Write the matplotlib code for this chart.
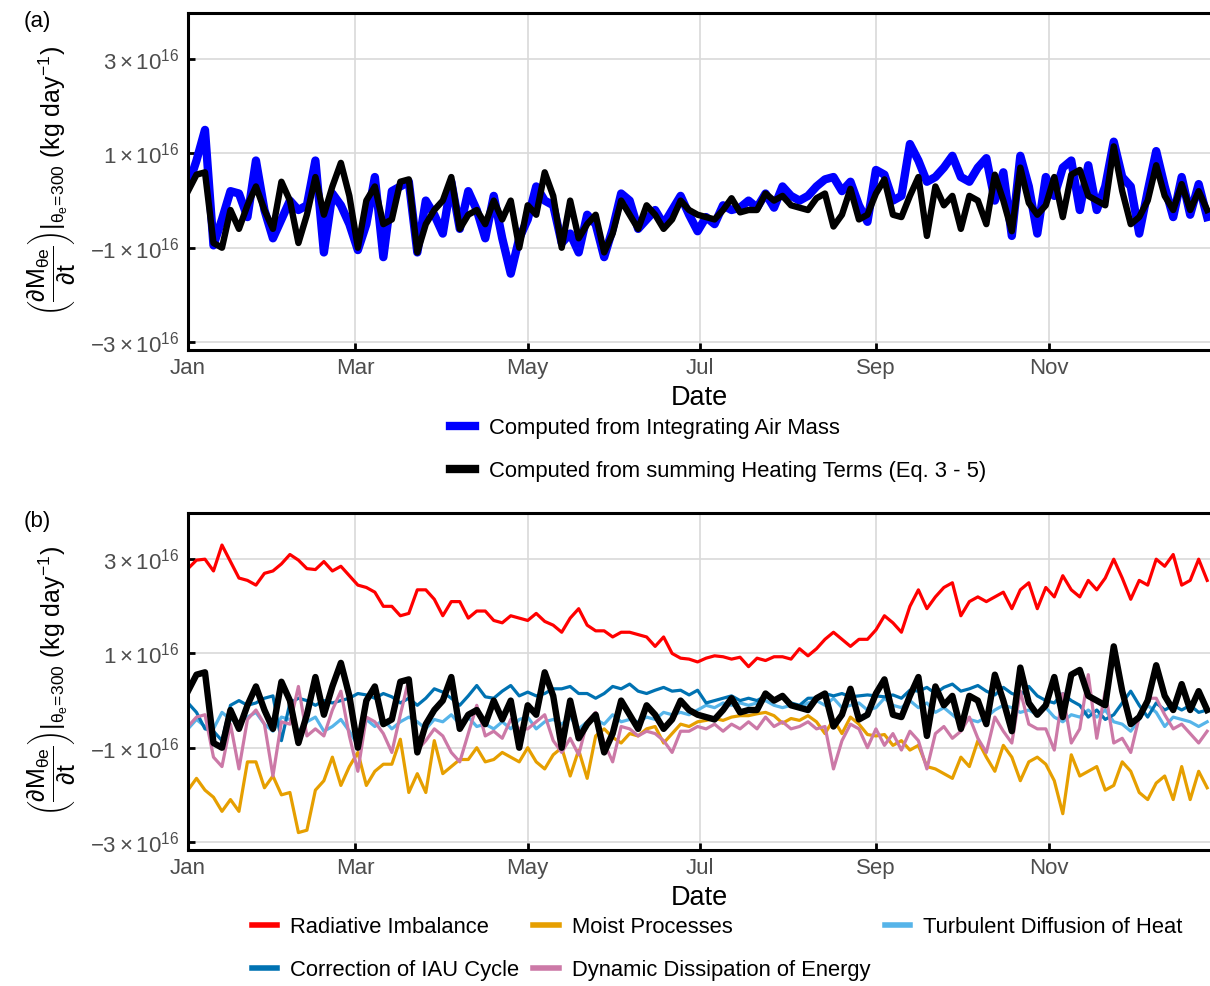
import numpy as np
import matplotlib
matplotlib.use("Agg")
import matplotlib.pyplot as plt
import matplotlib.dates as mdates
from matplotlib.ticker import FuncFormatter

plt.rcParams["font.family"] = ["Liberation Sans", "DejaVu Sans"]
plt.rcParams["mathtext.fontset"] = "custom"
plt.rcParams["mathtext.rm"] = "Liberation Sans"
plt.rcParams["mathtext.it"] = "Liberation Sans"
plt.rcParams["mathtext.bf"] = "Liberation Sans:bold"

# daily budget terms sampled every 3 days, in units of 1e16 kg/day
START = np.datetime64("2019-01-01")
STEP_DAYS = 3

integrated_mass = [
    0.3, 0.85, 1.5, -0.95, -0.4, 0.2, 0.15, -0.35, 0.85, -0.2, -0.8, -0.4, 0.0, -0.2, -0.1, 0.85,
    -1.1, 0.15, -0.1, -0.5, -1.05, -0.5, 0.5, -1.2, 0.2, 0.3, 0.4, -1.1, 0.0, -0.3, -0.7, 0.4,
    -0.6, 0.2, -0.2, -0.8, 0.1, -0.8, -1.55, -0.8, -0.4, 0.3, 0.0, -0.1, -0.9, -0.7, -1.1, -0.3,
    -0.5, -1.2, -0.6, 0.15, 0.0, -0.6, -0.4, -0.2, -0.5, -0.2, 0.1, -0.3, -0.65,
    -0.35, -0.5, -0.1, -0.2, -0.15, 0.0, -0.15, 0.15, -0.15, 0.3, 0.1, 0.0, 0.1, 0.3, 0.45, 0.5,
    0.2, 0.4, -0.1, -0.45, 0.65, 0.55, 0.0, 0.1, 1.2, 0.85, 0.4, 0.5, 0.7, 0.95, 0.5, 0.4,
    0.7, 0.9, 0.0, 0.6, -0.75, 0.95, 0.3, -0.7, 0.5, 0.1, 0.7, 0.85, -0.2, 0.75, -0.2, 0.3,
    1.25, 0.5, 0.3, -0.7, 0.2, 1.05, 0.3, -0.35, 0.5, -0.3, 0.35, -0.35,
]

heating_sum = [
    0.2, 0.55, 0.6, -0.9, -1.0, -0.2, -0.6, -0.1, 0.3, -0.2, -0.6, 0.4, 0.0, -0.9, -0.3, 0.5,
    -0.3, 0.3, 0.8, 0.1, -1.0, 0.0, 0.3, -0.5, -0.4, 0.4, 0.45, -1.1, -0.5, -0.2, 0.0, 0.5,
    -0.6, -0.3, -0.2, -0.5, 0.0, -0.4, 0.0, -1.0, -0.1, -0.3, 0.6, 0.1, -1.0, 0.0, -0.8, -0.5,
    -0.3, -1.1, -0.7, 0.0, -0.3, -0.6, -0.1, -0.3, -0.6, -0.4, 0.0, -0.2, -0.3,
    -0.35, -0.4, -0.2, 0.05, -0.25, -0.2, -0.2, 0.15, 0.0, 0.1, -0.1, -0.15, -0.2, 0.05, 0.15, -0.55,
    -0.3, 0.25, -0.4, -0.3, 0.15, 0.45, -0.3, -0.35, 0.1, 0.5, -0.75, 0.3, -0.1, 0.1, -0.6, 0.1,
    0.0, -0.5, 0.55, 0.0, -0.65, 0.7, -0.05, -0.3, -0.1, 0.5, -0.35, 0.55, 0.65, 0.1, 0.0, -0.1,
    1.15, 0.2, -0.5, -0.35, 0.0, 0.75, 0.1, -0.2, 0.35, -0.2, 0.2, -0.2,
]

radiative = [
    2.8, 2.98, 3.0, 2.75, 3.3, 2.95, 2.6, 2.55, 2.45, 2.7, 2.75, 2.9, 3.1, 2.98, 2.8, 2.78,
    2.95, 2.75, 2.85, 2.65, 2.45, 2.4, 2.3, 2.0, 2.0, 1.8, 1.85, 2.35, 2.35, 2.15, 1.8, 2.1,
    2.1, 1.75, 1.9, 1.9, 1.7, 1.65, 1.8, 1.75, 1.7, 1.85, 1.68, 1.6, 1.45, 1.75, 1.95, 1.6,
    1.48, 1.48, 1.35, 1.45, 1.45, 1.4, 1.35, 1.15, 1.35, 1.0, 0.9, 0.88, 0.82,
    0.9, 0.95, 0.93, 0.88, 0.92, 0.72, 0.9, 0.85, 0.93, 0.93, 0.88, 1.1, 0.95, 1.1, 1.3, 1.45,
    1.3, 1.15, 1.3, 1.3, 1.5, 1.8, 1.65, 1.45, 2.0, 2.35, 1.95, 2.2, 2.4, 2.5, 1.8, 2.1,
    2.2, 2.1, 2.2, 2.3, 1.95, 2.35, 2.5, 1.95, 2.4, 2.2, 2.65, 2.35, 2.2, 2.55, 2.35, 2.6,
    3.0, 2.6, 2.15, 2.55, 2.45, 3.0, 2.85, 3.1, 2.45, 2.55, 3.0, 2.55,
]

moist = [
    -1.9, -1.65, -1.9, -2.05, -2.35, -2.1, -2.35, -1.3, -1.3, -1.85, -1.6, -2.0, -1.95, -2.8, -2.75, -1.9,
    -1.7, -1.2, -1.8, -1.4, -1.1, -1.8, -1.5, -1.35, -1.35, -0.82, -1.95, -1.55, -1.95, -0.85, -1.55, -1.4,
    -1.25, -1.25, -1.0, -1.3, -1.25, -1.1, -1.2, -1.3, -1.0, -1.3, -1.45, -1.15, -1.0, -1.6, -1.05, -1.65,
    -0.75, -0.6, -0.78, -0.9, -0.7, -0.75, -0.6, -0.55, -0.9, -0.7, -0.5, -0.55, -0.45,
    -0.42, -0.38, -0.42, -0.35, -0.32, -0.32, -0.28, -0.25, -0.32, -0.48, -0.38, -0.42, -0.32, -0.45, -0.7, -0.4,
    -0.7, -0.35, -0.5, -0.72, -0.75, -0.72, -0.95, -0.85, -1.05, -0.95, -1.4, -1.45, -1.55, -1.65, -1.2, -1.4,
    -0.85, -1.2, -1.5, -0.95, -1.2, -1.7, -1.3, -1.2, -1.35, -1.7, -2.4, -1.15, -1.6, -1.5, -1.4, -1.9,
    -1.8, -1.3, -1.5, -1.95, -2.1, -1.75, -1.6, -2.1, -1.4, -2.1, -1.5, -1.85,
]

turbulent = [
    -0.6, -0.4, -0.55, -0.6, -0.25, -0.4, -0.45, -0.35, -0.25, -0.5, -0.65, -0.35, -0.4, -0.65, -0.45, -0.35,
    -0.65, -0.55, -0.4, -0.65, -0.95, -0.4, -0.55, -0.4, -0.6, -0.45, -0.35, -0.45, -0.6, -0.4, -0.45, -0.3,
    -0.5, -0.35, -0.55, -0.5, -0.6, -0.45, -0.6, -0.4, -0.35, -0.6, -0.45, -0.4, -0.5, -0.35, -0.6, -0.45,
    -0.4, -0.5, -0.3, -0.45, -0.4, -0.45, -0.35, -0.4, -0.25, -0.3, -0.25, -0.3, -0.2,
    -0.1, -0.15, -0.05, -0.1, -0.05, -0.1, -0.05, 0.0, -0.1, -0.15, -0.1, -0.15, -0.05, 0.0, -0.1, 0.05,
    -0.15, -0.1, -0.05, -0.2, -0.15, 0.05, -0.1, -0.15, 0.0, -0.15, -0.05, -0.25, -0.15, -0.3, -0.45, -0.4,
    -0.45, -0.35, -0.2, -0.1, -0.15, -0.25, -0.2, -0.3, -0.15, -0.35, -0.45, -0.3, -0.35, -0.2, -0.35, -0.2,
    -0.45, -0.5, -0.65, -0.4, -0.1, -0.25, -0.55, -0.35, -0.4, -0.45, -0.55, -0.45,
]

iau_correction = [
    -0.05, -0.25, -0.6, -0.65, -0.85, -0.1, 0.0, -0.1, -0.05, 0.05, 0.1, -0.85, -0.05, 0.05, 0.0, -0.1,
    0.0, -0.05, 0.0, 0.05, 0.15, 0.12, 0.05, 0.15, 0.08, -0.05, 0.05, -0.1, 0.05, 0.25, 0.18, 0.05,
    -0.1, 0.1, 0.32, 0.08, 0.05, 0.2, 0.32, 0.1, 0.18, 0.1, 0.15, 0.25, 0.25, 0.3, 0.15, 0.15,
    0.05, 0.15, 0.3, 0.25, 0.35, 0.2, 0.15, 0.22, 0.28, 0.2, 0.22, 0.12, 0.22,
    -0.05, 0.0, 0.05, 0.1, 0.0, 0.05, 0.0, 0.1, 0.0, 0.08, -0.05, -0.1, 0.05, 0.05, 0.15, 0.1,
    0.15, 0.08, 0.1, 0.12, 0.1, 0.08, 0.12, 0.05, 0.22, 0.2, 0.28, 0.15, 0.28, 0.35, 0.2, 0.25,
    0.32, 0.2, 0.12, 0.28, 0.15, 0.1, 0.3, 0.1, 0.0, -0.05, 0.15, 0.0, -0.1, -0.35, -0.2, -0.4,
    -0.3, -0.05, 0.2, -0.1, -0.35, -0.05, -0.2, -0.1, -0.2, -0.1, -0.25, -0.2,
]

dissipation = [
    -0.55, -0.35, -0.3, -1.2, -1.4, -0.5, -1.45, -0.4, -0.2, -0.5, -1.6, -0.45, -0.5, 0.3, -0.75, -0.6,
    -0.75, -0.2, 0.2, -0.75, -1.5, -0.35, -0.45, -0.7, -1.1, -0.3, 0.45, -1.05, -0.85, -0.6, -0.75, -1.1,
    -1.3, -0.7, -0.1, -0.75, -0.65, -0.8, -0.4, -0.6, -0.6, -0.45, -0.3, -0.85, -1.1, -0.8, -1.15, -0.45,
    -0.25, -0.9, -1.3, -0.55, -0.6, -0.75, -0.65, -0.7, -0.85, -1.1, -0.65, -0.65, -0.55,
    -0.6, -0.5, -0.65, -0.5, -0.6, -0.45, -0.6, -0.35, -0.55, -0.45, -0.6, -0.55, -0.45, -0.6, -0.55, -1.45,
    -0.85, -0.5, -0.6, -1.0, -0.6, -0.95, -0.7, -1.05, -0.65, -0.85, -1.45, -0.7, -0.55, -0.8, -0.65, -0.35,
    -0.8, -1.1, -0.35, -0.65, -0.9, 0.2, -0.5, -0.6, -0.6, -1.05, 0.15, -0.9, -0.6, 0.55, -0.8, 0.2,
    -0.9, -0.8, -1.1, -0.35, 0.05, 0.05, -0.3, -0.6, -0.5, -0.7, -0.9, -0.65,
]

UNIT = 1e16
dates = START + np.arange(len(heating_sum)) * np.timedelta64(STEP_DAYS, "D")

YLABEL = (r"$\left(\dfrac{\partial M_{\theta e}}{\partial t}\right)|_{\theta_e\!=\!300}$"
          r" (kg day$^{\mathregular{-1}}$)")
GRID = "#D9D9D9"
TICK_TEXT = "#4D4D4D"


def sci_label(v, pos):
    m = v / UNIT
    if abs(m) < 1e-9:
        return "0"
    return r"$%s%d\times10^{16}$" % ("-" if m < 0 else "", abs(round(m)))


def style_axes(ax):
    ax.set_xlim(START, START + np.timedelta64(361, "D"))
    ax.set_ylim(-3.17 * UNIT, 3.98 * UNIT)
    ax.set_yticks([-3 * UNIT, -1 * UNIT, 1 * UNIT, 3 * UNIT])
    ax.yaxis.set_major_formatter(FuncFormatter(sci_label))
    ax.xaxis.set_major_locator(mdates.MonthLocator(bymonth=[1, 3, 5, 7, 9, 11]))
    ax.xaxis.set_major_formatter(mdates.DateFormatter("%b"))
    ax.grid(True, color=GRID, linewidth=1.2, zorder=0)
    ax.set_axisbelow(True)
    for side in ("left", "bottom", "top"):
        ax.spines[side].set_linewidth(2.2)
        ax.spines[side].set_color("black")
    ax.spines["right"].set_visible(False)
    ax.tick_params(direction="in", length=5, width=2, color="black",
                   labelcolor=TICK_TEXT, labelsize=16)
    ax.tick_params(axis="x", pad=6)
    ax.tick_params(axis="y", pad=6)
    ax.set_xlabel("Date", fontsize=19.5, labelpad=4)
    ax.set_ylabel(YLABEL, fontsize=18)
    ax.yaxis.set_label_coords(-0.108, 0.5)


def series(vals):
    return np.asarray(vals) * UNIT


fig = plt.figure(figsize=(12.1, 9.86), dpi=100)
W, H = 1210.0, 986.0
ax_a = fig.add_axes([188 / W, 1 - 350 / H, 1 - 188 / W, (350 - 13) / H])
ax_b = fig.add_axes([188 / W, 1 - 850 / H, 1 - 188 / W, (850 - 513) / H])

# (a) closure check: mass tendency vs sum of heating terms
la1, = ax_a.plot(dates, series(integrated_mass), color="#0000FF", lw=6,
                 solid_joinstyle="round", label="Computed from Integrating Air Mass")
la2, = ax_a.plot(dates, series(heating_sum), color="black", lw=4.6,
                 solid_joinstyle="round",
                 label="Computed from summing Heating Terms (Eq. 3 - 5)")
style_axes(ax_a)

# (b) individual heating terms
terms = [
    (radiative, "#FF0000", "Radiative Imbalance"),
    (moist, "#E69F00", "Moist Processes"),
    (turbulent, "#56B4E9", "Turbulent Diffusion of Heat"),
    (iau_correction, "#0072B2", "Correction of IAU Cycle"),
    (dissipation, "#CC79A7", "Dynamic Dissipation of Energy"),
]
handles = {}
for vals, col, name in terms:
    handles[name], = ax_b.plot(dates, series(vals), color=col, lw=2.3, label=name)
ax_b.plot(dates, series(heating_sum), color="black", lw=4.6, solid_joinstyle="round")
style_axes(ax_b)

leg_a = fig.legend(handles=[la1, la2], loc="center",
                   bbox_to_anchor=(718 / W, 1 - 450 / H), ncol=1, frameon=False,
                   fontsize=15.8, handlelength=1.15, handletextpad=0.6,
                   labelspacing=1.0)
for h in leg_a.legend_handles:
    h.set_linewidth(6)

order = ["Radiative Imbalance", "Correction of IAU Cycle", "Moist Processes",
         "Dynamic Dissipation of Energy", "Turbulent Diffusion of Heat"]
leg_b = fig.legend(handles=[handles[n] for n in order], loc="center",
                   bbox_to_anchor=(717 / W, 1 - 949 / H), ncol=3, frameon=False,
                   fontsize=15.8, handlelength=1.15, handletextpad=0.6,
                   labelspacing=1.0, columnspacing=0.65)
for h in leg_b.legend_handles:
    h.set_linewidth(4)

fig.text(37 / W, 1 - 22 / H, "(a)", ha="center", va="center", fontsize=16)
fig.text(37 / W, 1 - 522 / H, "(b)", ha="center", va="center", fontsize=16)

fig.savefig("out.png", dpi=100)
